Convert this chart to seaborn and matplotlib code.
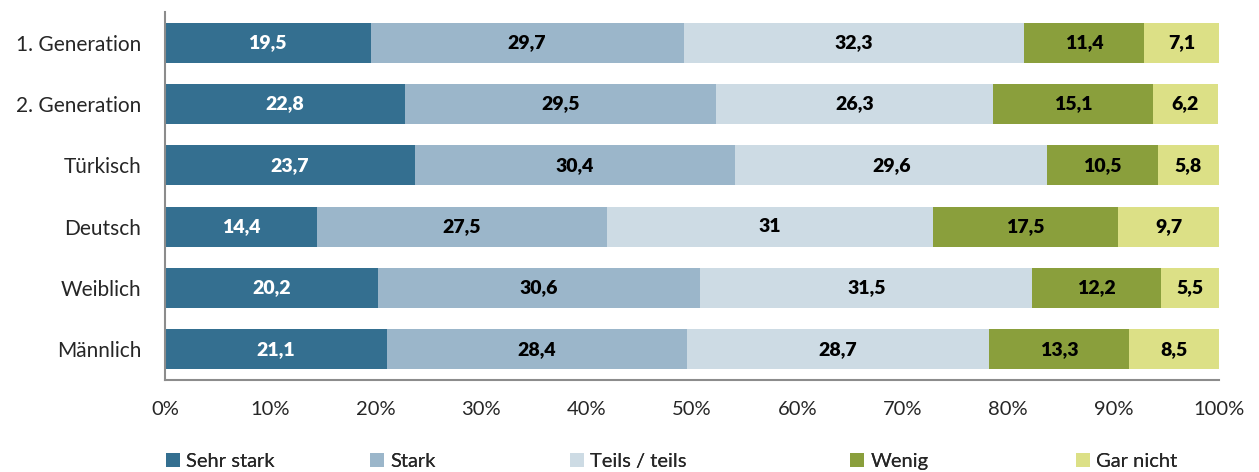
import matplotlib
matplotlib.use("Agg")
import matplotlib.pyplot as plt
from matplotlib.patches import Patch
import seaborn as sns
import numpy as np
import pandas as pd

categories = ["1. Generation", "2. Generation", "Türkisch", "Deutsch", "Weiblich", "Männlich"]
series_names = ["Sehr stark", "Stark", "Teils / teils", "Wenig", "Gar nicht"]
sehr_stark = [19.5, 22.8, 23.7, 14.4, 20.2, 21.1]
stark = [29.7, 29.5, 30.4, 27.5, 30.6, 28.4]
teils = [32.3, 26.3, 29.6, 31.0, 31.5, 28.7]
wenig = [11.4, 15.1, 10.5, 17.5, 12.2, 13.3]
gar_nicht = [7.1, 6.2, 5.8, 9.7, 5.5, 8.5]
colors = ["#346F90", "#9BB6CA", "#CDDBE4", "#8A9F3C", "#DCE086"]
label_colors = ["white", "black", "black", "black", "black"]
xticks = list(range(0, 101, 10))

values = np.array([sehr_stark, stark, teils, wenig, gar_nicht])
cum = np.cumsum(values, axis=0)

sns.set_style("white")
plt.rcParams["font.family"] = ["Lato", "DejaVu Sans"]

fig = plt.figure(figsize=(12.59, 4.72), dpi=100)
ax = fig.add_axes([165 / 1259, 92 / 472, 1054 / 1259, 368 / 472])

# stacked bars: draw cumulative totals from the last series to the first
for i in range(len(series_names) - 1, -1, -1):
    df = pd.DataFrame({"cat": categories, "val": cum[i]})
    sns.barplot(data=df, x="val", y="cat", orient="h", color=colors[i],
                width=0.65, saturation=1, ax=ax, linewidth=0)

for i in range(len(series_names)):
    for j, cat in enumerate(categories):
        v = values[i, j]
        txt = f"{v:g}".replace(".", ",")
        ax.text(cum[i, j] - v / 2, j, txt, ha="center", va="center",
                fontsize=14, fontweight="heavy", color=label_colors[i])

ax.set_xlim(0, 100)
ax.set_ylim(len(categories) - 0.5, -0.5)
ax.set_xticks(xticks)
ax.set_xticklabels([f"{t}%" for t in xticks], fontsize=14.5)
ax.tick_params(axis="y", length=0, labelsize=15, pad=17)
ax.tick_params(axis="x", length=6, width=1.2, color="#8C8C8C", direction="out", pad=9)
ax.set_xlabel("")
ax.set_ylabel("")
for s in ["top", "right"]:
    ax.spines[s].set_visible(False)
for s in ["left", "bottom"]:
    ax.spines[s].set_color("#8C8C8C")
    ax.spines[s].set_linewidth(1.5)

# one legend entry per series, placed like the original
legend_x = [148, 352, 552, 832, 1058]
for name, c, lx in zip(series_names, colors, legend_x):
    leg = fig.legend([Patch(facecolor=c, edgecolor="none")], [name], loc="lower left",
                     bbox_to_anchor=(lx / 1259, -0.035), frameon=False, fontsize=14.5,
                     handlelength=0.7, handleheight=0.7, handletextpad=0.3)
    fig.add_artist(leg)

fig.savefig("out.png", dpi=100)
